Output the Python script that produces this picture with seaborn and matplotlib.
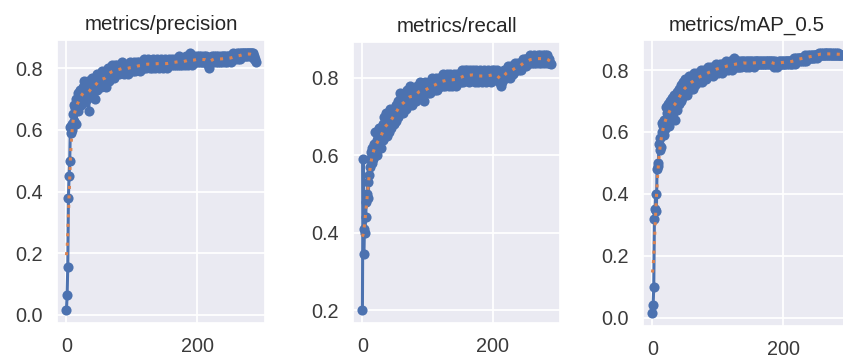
import numpy as np
import matplotlib
matplotlib.use("Agg")
import matplotlib.pyplot as plt
import seaborn as sns

# epochs 0..289, values
epochs = list(range(290))

titles = ["metrics/precision", "metrics/recall", "metrics/mAP_0.5"]

precision = [
    0.015, 0.065, 0.155, 0.38, 0.45, 0.50, 0.61, 0.59, 0.62, 0.60,
    0.65, 0.68, 0.63, 0.67, 0.70, 0.62, 0.69, 0.72, 0.66, 0.71,
    0.70, 0.73, 0.68, 0.72, 0.70, 0.74, 0.71, 0.76, 0.69, 0.73,
    0.75, 0.70, 0.72, 0.76, 0.66, 0.74, 0.71, 0.75, 0.73, 0.77,
    0.72, 0.76, 0.74, 0.70, 0.77, 0.75, 0.73, 0.78, 0.74, 0.76,
    0.77, 0.75, 0.78, 0.74, 0.76, 0.79, 0.77, 0.75, 0.78, 0.76,
    0.74, 0.79, 0.77, 0.80, 0.78, 0.76, 0.80, 0.79, 0.77, 0.81,
    0.79, 0.78, 0.80, 0.77, 0.81, 0.79, 0.80, 0.78, 0.81, 0.79,
    0.80, 0.78, 0.81, 0.79, 0.80, 0.82, 0.79, 0.80, 0.78, 0.81,
    0.80, 0.79, 0.81, 0.80, 0.78, 0.81, 0.80, 0.82, 0.79, 0.80,
    0.81, 0.79, 0.80, 0.82, 0.80, 0.79, 0.81, 0.80, 0.82, 0.81,
    0.80, 0.82, 0.81, 0.79, 0.81, 0.82, 0.80, 0.81, 0.83, 0.80,
    0.81, 0.82, 0.80, 0.82, 0.81, 0.83, 0.81, 0.80, 0.82, 0.81,
    0.82, 0.80, 0.81, 0.83, 0.81, 0.82, 0.80, 0.82, 0.81, 0.83,
    0.81, 0.82, 0.80, 0.81, 0.83, 0.82, 0.81, 0.82, 0.80, 0.82,
    0.81, 0.83, 0.82, 0.81, 0.80, 0.82, 0.81, 0.83, 0.82, 0.81,
    0.82, 0.81, 0.83, 0.82, 0.81, 0.82, 0.83, 0.81, 0.82, 0.83,
    0.81, 0.82, 0.84, 0.82, 0.81, 0.83, 0.82, 0.81, 0.83, 0.82,
    0.83, 0.81, 0.82, 0.84, 0.82, 0.83, 0.81, 0.82, 0.84, 0.85,
    0.83, 0.82, 0.81, 0.83, 0.82, 0.84, 0.82, 0.83, 0.82, 0.84,
    0.83, 0.82, 0.84, 0.83, 0.82, 0.83, 0.84, 0.82, 0.83, 0.82,
    0.84, 0.83, 0.82, 0.83, 0.84, 0.83, 0.82, 0.81, 0.80, 0.82,
    0.83, 0.82, 0.84, 0.83, 0.82, 0.83, 0.84, 0.83, 0.82, 0.84,
    0.83, 0.82, 0.84, 0.83, 0.82, 0.83, 0.84, 0.83, 0.82, 0.84,
    0.83, 0.84, 0.82, 0.83, 0.84, 0.83, 0.82, 0.84, 0.83, 0.84,
    0.83, 0.84, 0.82, 0.83, 0.84, 0.85, 0.83, 0.84, 0.83, 0.84,
    0.85, 0.84, 0.83, 0.84, 0.85, 0.84, 0.83, 0.85, 0.84, 0.85,
    0.84, 0.85, 0.85, 0.84, 0.85, 0.84, 0.85, 0.85, 0.84, 0.85,
    0.85, 0.84, 0.85, 0.85, 0.84, 0.85, 0.84, 0.83, 0.83, 0.82,
]

recall = [
    0.20, 0.59, 0.345, 0.41, 0.40, 0.44, 0.48, 0.50, 0.53, 0.49,
    0.55, 0.59, 0.57, 0.61, 0.58, 0.62, 0.60, 0.59, 0.63, 0.61,
    0.66, 0.62, 0.64, 0.60, 0.65, 0.63, 0.67, 0.64, 0.66, 0.62,
    0.65, 0.68, 0.64, 0.70, 0.66, 0.67, 0.71, 0.65, 0.69, 0.67,
    0.70, 0.66, 0.68, 0.72, 0.67, 0.70, 0.69, 0.71, 0.68, 0.72,
    0.70, 0.73, 0.69, 0.71, 0.74, 0.70, 0.72, 0.76, 0.71, 0.73,
    0.75, 0.72, 0.74, 0.71, 0.76, 0.73, 0.75, 0.72, 0.77, 0.74,
    0.76, 0.73, 0.75, 0.78, 0.74, 0.76, 0.73, 0.77, 0.75, 0.74,
    0.77, 0.75, 0.76, 0.74, 0.78, 0.76, 0.75, 0.77, 0.79, 0.76,
    0.75, 0.77, 0.78, 0.76, 0.74, 0.77, 0.79, 0.76, 0.78, 0.77,
    0.76, 0.78, 0.77, 0.79, 0.76, 0.78, 0.77, 0.80, 0.78, 0.77,
    0.79, 0.77, 0.78, 0.80, 0.77, 0.79, 0.78, 0.80, 0.79, 0.78,
    0.80, 0.78, 0.79, 0.81, 0.78, 0.80, 0.79, 0.78, 0.80, 0.79,
    0.81, 0.79, 0.80, 0.78, 0.80, 0.81, 0.79, 0.80, 0.78, 0.80,
    0.79, 0.81, 0.80, 0.78, 0.80, 0.79, 0.81, 0.80, 0.79, 0.80,
    0.81, 0.79, 0.80, 0.82, 0.80, 0.79, 0.81, 0.80, 0.82, 0.81,
    0.80, 0.82, 0.81, 0.79, 0.81, 0.80, 0.82, 0.81, 0.80, 0.81,
    0.82, 0.80, 0.81, 0.79, 0.81, 0.82, 0.80, 0.81, 0.79, 0.81,
    0.80, 0.82, 0.81, 0.80, 0.79, 0.81, 0.80, 0.82, 0.80, 0.81,
    0.79, 0.81, 0.80, 0.82, 0.81, 0.80, 0.81, 0.79, 0.81, 0.82,
    0.81, 0.80, 0.82, 0.81, 0.80, 0.81, 0.82, 0.80, 0.81, 0.80,
    0.79, 0.81, 0.80, 0.78, 0.79, 0.80, 0.81, 0.80, 0.82, 0.81,
    0.80, 0.82, 0.81, 0.83, 0.81, 0.82, 0.80, 0.82, 0.83, 0.81,
    0.83, 0.82, 0.81, 0.83, 0.82, 0.84, 0.82, 0.83, 0.82, 0.84,
    0.83, 0.82, 0.84, 0.83, 0.82, 0.84, 0.85, 0.83, 0.84, 0.85,
    0.84, 0.83, 0.85, 0.84, 0.85, 0.84, 0.85, 0.84, 0.86, 0.85,
    0.84, 0.85, 0.85, 0.84, 0.86, 0.85, 0.84, 0.85, 0.85, 0.86,
    0.85, 0.84, 0.85, 0.86, 0.85, 0.84, 0.85, 0.86, 0.85, 0.84,
    0.85, 0.86, 0.85, 0.84, 0.86, 0.85, 0.84, 0.85, 0.84, 0.835,
]

map50 = [
    0.015, 0.04, 0.10, 0.32, 0.35, 0.40, 0.345, 0.48, 0.49, 0.50,
    0.56, 0.54, 0.58, 0.55, 0.63, 0.60, 0.62, 0.59, 0.64, 0.61,
    0.68, 0.63, 0.66, 0.64, 0.69, 0.62, 0.67, 0.70, 0.65, 0.68,
    0.71, 0.66, 0.69, 0.72, 0.64, 0.70, 0.68, 0.73, 0.67, 0.71,
    0.74, 0.69, 0.72, 0.70, 0.75, 0.71, 0.73, 0.76, 0.72, 0.74,
    0.77, 0.73, 0.75, 0.72, 0.76, 0.74, 0.78, 0.75, 0.77, 0.74,
    0.78, 0.76, 0.74, 0.77, 0.79, 0.75, 0.78, 0.76, 0.79, 0.77,
    0.78, 0.76, 0.79, 0.77, 0.80, 0.78, 0.76, 0.79, 0.78, 0.80,
    0.78, 0.79, 0.77, 0.80, 0.78, 0.81, 0.79, 0.78, 0.80, 0.79,
    0.81, 0.79, 0.80, 0.78, 0.81, 0.80, 0.79, 0.82, 0.80, 0.81,
    0.79, 0.81, 0.80, 0.82, 0.80, 0.81, 0.79, 0.82, 0.81, 0.80,
    0.82, 0.80, 0.81, 0.83, 0.81, 0.80, 0.82, 0.81, 0.83, 0.81,
    0.82, 0.81, 0.80, 0.82, 0.84, 0.81, 0.82, 0.81, 0.83, 0.82,
    0.81, 0.83, 0.82, 0.81, 0.83, 0.82, 0.81, 0.83, 0.82, 0.83,
    0.82, 0.83, 0.82, 0.81, 0.83, 0.82, 0.83, 0.82, 0.81, 0.83,
    0.82, 0.83, 0.82, 0.83, 0.82, 0.81, 0.83, 0.82, 0.83, 0.82,
    0.83, 0.82, 0.83, 0.82, 0.83, 0.82, 0.83, 0.82, 0.82, 0.83,
    0.82, 0.83, 0.82, 0.83, 0.82, 0.83, 0.82, 0.83, 0.82, 0.83,
    0.83, 0.82, 0.83, 0.82, 0.83, 0.82, 0.81, 0.82, 0.83, 0.82,
    0.82, 0.81, 0.82, 0.83, 0.82, 0.83, 0.82, 0.82, 0.83, 0.82,
    0.83, 0.82, 0.83, 0.82, 0.83, 0.83, 0.82, 0.83, 0.82, 0.83,
    0.83, 0.82, 0.83, 0.83, 0.82, 0.83, 0.84, 0.83, 0.82, 0.83,
    0.84, 0.83, 0.84, 0.83, 0.84, 0.83, 0.84, 0.84, 0.83, 0.84,
    0.84, 0.83, 0.84, 0.85, 0.84, 0.83, 0.84, 0.84, 0.85, 0.84,
    0.84, 0.85, 0.84, 0.84, 0.85, 0.84, 0.85, 0.84, 0.85, 0.85,
    0.85, 0.84, 0.85, 0.85, 0.855, 0.85, 0.85, 0.855, 0.85, 0.85,
    0.855, 0.85, 0.85, 0.855, 0.85, 0.855, 0.85, 0.855, 0.85, 0.85,
    0.855, 0.85, 0.855, 0.85, 0.855, 0.85, 0.85, 0.855, 0.85, 0.85,
    0.85, 0.855, 0.85, 0.85, 0.855, 0.85, 0.85, 0.85, 0.85, 0.85,
]

y_ticks = [[0.0, 0.2, 0.4, 0.6, 0.8], [0.2, 0.4, 0.6, 0.8], [0.0, 0.2, 0.4, 0.6, 0.8]]
x_ticks = [0, 200]


def gaussian_smooth(y, sigma=3):
    # same idea as scipy gaussian_filter1d with mode='reflect'
    r = int(4 * sigma + 0.5)
    k = np.arange(-r, r + 1)
    w = np.exp(-0.5 * (k / sigma) ** 2)
    w /= w.sum()
    padded = np.pad(np.asarray(y, float), r, mode="symmetric")
    return np.convolve(padded, w, mode="valid")


sns.set_theme(style="darkgrid")
plt.rcParams["font.family"] = ["Liberation Sans", "DejaVu Sans"]

blue = "#4c72b0"
orange = "#dd8452"

fig = plt.figure(figsize=(8.43, 3.63), dpi=100)
W, H = 843, 363
# left, right, top, bottom in pixels
boxes = [(57, 265, 40, 323), (353, 560, 42, 323), (643, 851, 40, 326)]

for title, vals, yt, (l, r, t, b) in zip(titles, [precision, recall, map50], y_ticks, boxes):
    ax = fig.add_axes([l / W, (H - b) / H, (r - l) / W, (b - t) / H])
    sns.lineplot(x=epochs, y=vals, ax=ax, color=blue, marker="o", markersize=7.3,
                 markeredgewidth=0, linewidth=2.2)
    sns.lineplot(x=epochs, y=gaussian_smooth(vals), ax=ax, color=orange,
                 linewidth=2.2, linestyle=(0, (1, 2.1)))
    ax.set_title(title, fontsize=14.8, color="#262626", pad=7)
    ax.set_xticks(x_ticks)
    ax.set_yticks(yt)
    ax.set_yticklabels([f"{v:.1f}" for v in yt])
    ax.tick_params(labelsize=14.3, colors="#3a3a3a", pad=10, length=0)
    ax.grid(True, color="white", linewidth=1.3)

fig.savefig("out.png", dpi=100)
